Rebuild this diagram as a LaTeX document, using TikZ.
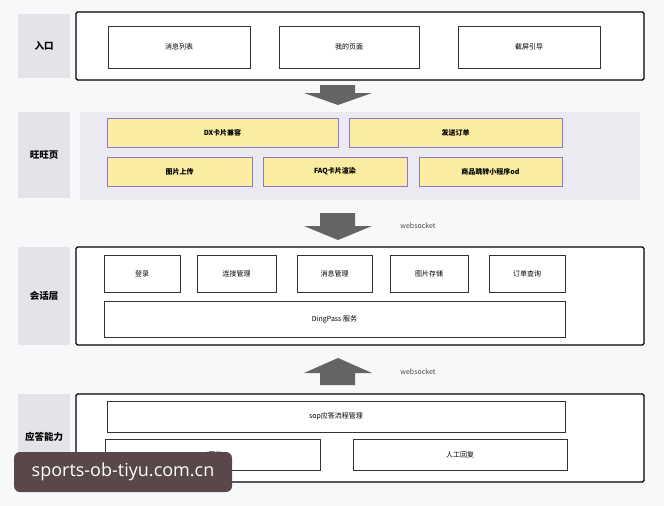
\documentclass[tikz,border=0pt]{standalone}
\usepackage{fontspec}
\setmainfont{Noto Sans CJK SC}
\usepackage{tikz}
\usetikzlibrary{arrows.meta}
\definecolor{bgGray}{RGB}{247,248,250}
\definecolor{lblGray}{RGB}{226,228,232}
\definecolor{panGray}{RGB}{234,234,240}
\definecolor{cardYel}{RGB}{250,236,160}
\definecolor{cardLine}{RGB}{140,120,210}
\definecolor{arrGray}{RGB}{100,100,100}
\definecolor{wmBrown}{RGB}{88,72,74}
\tikzset{
    base/.style={font=\fontsize{7}{8}\selectfont, align=center, inner sep=0pt},
    layer/.style={base, font=\fontsize{9.5}{11}\selectfont\bfseries, fill=lblGray},
    frame/.style={draw=black, line width=1.1pt, rounded corners=1.5pt, fill=white},
    box/.style={base, draw=black!80, line width=0.9pt, fill=white},
    card/.style={base, font=\fontsize{7}{8}\selectfont\bfseries, draw=cardLine, line width=0.9pt, fill=cardYel},
    label/.style={base, text=black!70}
}
\begin{document}
\begin{tikzpicture}[x=1pt, y=-1pt]
  \fill[bgGray] (0,0) rectangle (664,506);
  \useasboundingbox (0,0) rectangle (664,506);

  % Entry layer
  \node[layer, minimum width=52pt, minimum height=64pt] (lRu) at (44,46) {入口};
  \node[frame, minimum width=568pt, minimum height=68pt] (fRu) at (360,46) {};
  \node[box, minimum width=142pt, minimum height=42pt] (msgList) at (179,47) {消息列表};
  \node[box, minimum width=140pt, minimum height=42pt] (myPage) at (349,47) {我的页面};
  \node[box, minimum width=142pt, minimum height=42pt] (shotGuide) at (529,47) {截屏引导};

  \draw[fill=arrGray, draw=none] (320,85) -- (355,85) -- (355,93) -- (372,93) -- (338,105) -- (304,93) -- (320,93) -- cycle;

  % Wangwang layer
  \node[layer, minimum width=52pt, minimum height=86pt] (lWw) at (44,155) {旺旺页};
  \node[fill=panGray, minimum width=560pt, minimum height=88pt, inner sep=0pt] (pWw) at (360,156) {};
  \node[card, minimum width=231pt, minimum height=29pt] (dxCard) at (222.5,132.5) {DX卡片兼容};
  \node[card, minimum width=213pt, minimum height=29pt] (sendOrder) at (455.5,132.5) {发送订单};
  \node[card, minimum width=145pt, minimum height=29pt] (imgUp) at (179.5,171.5) {图片上传};
  \node[card, minimum width=144pt, minimum height=29pt] (faqCard) at (335,171.5) {FAQ卡片渲染};
  \node[card, minimum width=143pt, minimum height=29pt] (jumpApp) at (490.5,171.5) {商品跳转小程序od};

  \draw[fill=arrGray, draw=none] (320,213) -- (355,213) -- (355,226) -- (372,226) -- (338,240) -- (304,226) -- (320,226) -- cycle;
  \node[label] (ws1) at (418,226) {websocket};

  % Session layer
  \node[layer, minimum width=52pt, minimum height=98pt] (lHh) at (44,296) {会话层};
  \node[frame, minimum width=568pt, minimum height=98pt] (fHh) at (360,296) {};
  \begin{scope}[every node/.append style={font=\fontsize{7}{8}\selectfont\bfseries}]
  \node[box, minimum width=76pt, minimum height=37pt] (login) at (142,273.5) {登录};
  \node[box, minimum width=79pt, minimum height=37pt] (connMgr) at (236.5,273.5) {连接管理};
  \node[box, minimum width=75pt, minimum height=37pt] (msgMgr) at (334.5,273.5) {消息管理};
  \node[box, minimum width=78pt, minimum height=37pt] (imgStore) at (429,273.5) {图片存储};
  \node[box, minimum width=76pt, minimum height=37pt] (orderQry) at (527,273.5) {订单查询};
  \node[box, minimum width=461pt, minimum height=36pt] (dingPass) at (334.5,319) {DingPass 服务};
  \end{scope}

  \draw[fill=arrGray, draw=none] (320,385) -- (355,385) -- (355,373) -- (372,373) -- (338,358) -- (304,373) -- (320,373) -- cycle;
  \node[label] (ws2) at (418,372) {websocket};

  % Answer layer
  \node[layer, minimum width=52pt, minimum height=86pt] (lYd) at (44,437) {应答能力};
  \node[frame, minimum width=568pt, minimum height=88pt] (fYd) at (360,438) {};
  \node[box, minimum width=458pt, minimum height=31pt] (sopMgr) at (336,416.5) {sop应答流程管理};
  \node[box, minimum width=215pt, minimum height=31pt] (aiReply) at (212.5,454.5) {ai回复};
  \node[box, minimum width=214pt, minimum height=31pt] (manReply) at (460,454.5) {人工回复};

  % Watermark
  \node[fill=wmBrown, rounded corners=6pt, minimum width=218pt, minimum height=40pt, inner sep=0pt,
        text=white, font=\fontsize{18}{20}\selectfont\fontspec{Open Sans}] (wm) at (123,472) {sports-ob-tiyu.com.cn};
\end{tikzpicture}
\end{document}
